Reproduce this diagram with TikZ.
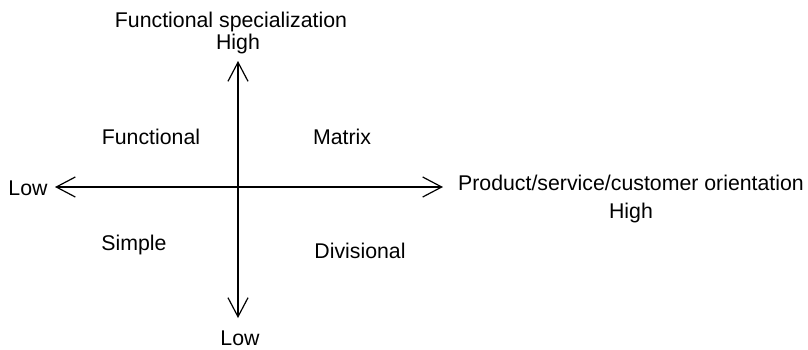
\documentclass[tikz,border=0pt]{standalone}
\usepackage{fontspec}
\setmainfont{Liberation Sans}
\usetikzlibrary{arrows.meta}
\begin{document}
\begin{tikzpicture}[x=1pt,y=-1pt,
  lbl/.style={font=\fontsize{21.3}{24}\selectfont, inner sep=0pt, anchor=base},
  axis/.style={line width=1.2pt, {Straight Barb[length=19pt,width=20pt,line width=1.2pt]}-{Straight Barb[length=19pt,width=20pt,line width=1.2pt]}}]
\useasboundingbox (0,0) rectangle (808,349);
% axis ends
\coordinate (top) at (238,61);
\coordinate (bottom) at (238,318);
\coordinate (left) at (55,187);
\coordinate (right) at (443,187);
% axes
\draw[axis] (bottom) -- (top);
\draw[axis] (left) -- (right);
% axis labels
\node[lbl] (vtitle) at (231,27) {Functional specialization};
\node[lbl] (vhigh) at (238,49) {High};
\node[lbl] (vlow) at (240,345) {Low};
\node[lbl] (hlow) at (28,195) {Low};
\node[lbl] (htitle) at (631,190) {Product/service/customer orientation};
\node[lbl] (hhigh) at (631,218) {High};
% quadrants
\node[lbl] (functional) at (151,144) {Functional};
\node[lbl] (matrix) at (342,144) {Matrix};
\node[lbl] (simple) at (134,250) {Simple};
\node[lbl] (divisional) at (360,258) {Divisional};
\end{tikzpicture}
\end{document}
